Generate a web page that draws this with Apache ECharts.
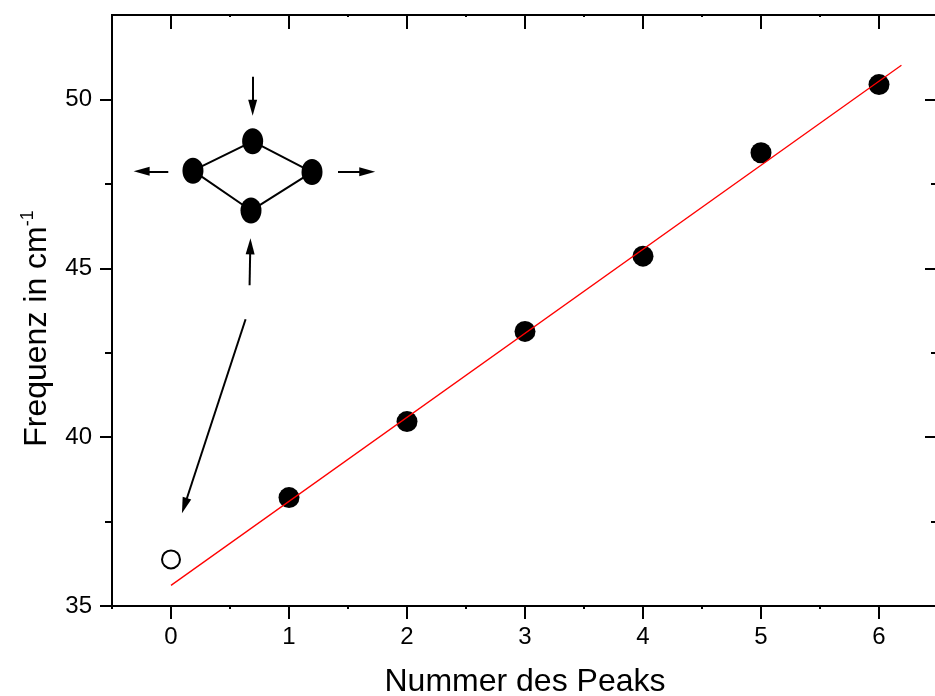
<!DOCTYPE html>
<html>
<head>
<meta charset="utf-8">
<script src="https://cdn.jsdelivr.net/npm/echarts@6/dist/echarts.min.js"></script>
<style>
html,body{margin:0;padding:0;background:#fff;}
#chart{width:935px;height:696px;}
</style>
</head>
<body>
<div id="chart"></div>
<script>
// ---- data ----
const xMajorTicks = [0, 1, 2, 3, 4, 5, 6];
const xMinorTicks = [-0.5, 0.5, 1.5, 2.5, 3.5, 4.5, 5.5];
const yMajorTicks = [35, 40, 45, 50];
const yMinorTicks = [37.5, 42.5, 47.5];

const peakX = [1, 2, 3, 4, 5, 6];
const peakY = [38.21, 40.46, 43.13, 45.36, 48.42, 50.44];
const openX = [0];
const openY = [36.38];
const fitX = [0, 6.19];
const fitY = [35.61, 51.01];

// inset: molecule atoms (top, right, bottom, left, back to top)
const atomX = [0.692, 1.195, 0.678, 0.186, 0.692];
const atomY = [48.76, 47.85, 46.71, 47.89, 48.76];
// arrows (tail -> head)
const arrowFromX = [0.692, -0.023, 1.415, 0.666, 0.632];
const arrowFromY = [50.67, 47.87, 47.86, 44.50, 43.49];
const arrowToX   = [0.692, -0.249, 1.663, 0.672, 0.114];
const arrowToY   = [49.75, 47.87, 47.86, 45.65, 37.97];

const FONT = 'Liberation Sans, Arial, sans-serif';
const BLACK = '#000';

const chart = echarts.init(document.getElementById('chart'), null, {renderer: 'canvas'});

const zip = (a, b) => a.map((v, i) => [v, b[i]]);

function xAx(pos, ticks, len, inside, withLabels) {
  return {
    type: 'value', position: pos, min: -0.5, max: 6.5,
    gridIndex: 0,
    axisLine: {show: true, onZero: false, lineStyle: {color: BLACK, width: 2}},
    axisTick: {show: true, inside: inside, length: len, customValues: ticks, lineStyle: {color: BLACK, width: 2}},
    axisLabel: withLabels ? {show: true, customValues: xMajorTicks, fontSize: 24, color: BLACK, fontFamily: FONT, margin: 19} : {show: false},
    splitLine: {show: false}
  };
}
function yAx(pos, ticks, len, inside, withLabels) {
  return {
    type: 'value', position: pos, min: 35, max: 52.5,
    gridIndex: 0,
    axisLine: {show: true, onZero: false, lineStyle: {color: BLACK, width: 2}},
    axisTick: {show: true, inside: inside, length: len, customValues: ticks, lineStyle: {color: BLACK, width: 2}},
    axisLabel: withLabels ? {show: true, customValues: yMajorTicks, fontSize: 24, color: BLACK, fontFamily: FONT, margin: 20} : {show: false},
    splitLine: {show: false}
  };
}

const xAxes = [
  Object.assign(xAx('bottom', xMajorTicks, 13, false, true), {
    name: 'Nummer des Peaks', nameLocation: 'middle', nameGap: 60,
    nameTextStyle: {fontSize: 32, color: BLACK, fontFamily: FONT}
  }),
  xAx('bottom', xMinorTicks, 3, false, false),
  xAx('top', xMajorTicks, 14, true, false),
  xAx('top', xMinorTicks, 2, true, false)
];
const yAxes = [
  Object.assign(yAx('left', yMajorTicks, 12, false, true), {
    name: '{a|Frequenz in cm}{b|-1}', nameLocation: 'middle', nameGap: 57, nameRotate: 90,
    nameTextStyle: {
      padding: [0, 36, 0, 0],
      rich: {
        a: {fontSize: 32, color: BLACK, fontFamily: FONT, lineHeight: 36},
        b: {fontSize: 18, color: BLACK, fontFamily: FONT, lineHeight: 18, verticalAlign: 'top'}
      }
    }
  }),
  yAx('left', yMinorTicks, 7, false, false),
  yAx('right', yMajorTicks, 13, true, false),
  yAx('right', yMinorTicks, 7, true, false)
];

const option = {
  animation: false,
  backgroundColor: '#fff',
  grid: {left: 112, top: 15, width: 826, height: 591, containLabel: false, outerBoundsMode: 'none'},
  xAxis: xAxes,
  yAxis: yAxes,
  series: [
    {
      type: 'line', data: zip(atomX, atomY), symbol: 'none', silent: true,
      lineStyle: {color: BLACK, width: 2, opacity: 1},
      markLine: {
        silent: true, animation: false,
        symbol: ['none', 'triangle'], symbolSize: [9, 16],
        label: {show: false},
        itemStyle: {color: BLACK, opacity: 1},
        lineStyle: {color: BLACK, width: 2, type: 'solid', opacity: 1},
        emphasis: {disabled: true},
        data: arrowFromX.map((v, i) => [
          {coord: [v, arrowFromY[i]]},
          {coord: [arrowToX[i], arrowToY[i]]}
        ])
      }
    },
    {
      type: 'scatter', data: zip(atomX.slice(0, 4), atomY.slice(0, 4)), silent: true,
      symbol: 'path://M0 10A10 10 0 1 1 20 10A10 10 0 1 1 0 10Z',
      symbolKeepAspect: false, symbolSize: [21, 26],
      itemStyle: {color: BLACK, opacity: 1}
    },
    {
      type: 'scatter', data: zip(openX, openY), silent: true,
      symbol: 'circle', symbolSize: 18,
      itemStyle: {color: '#fff', borderColor: BLACK, borderWidth: 2, opacity: 1}
    },
    {
      type: 'scatter', data: zip(peakX, peakY), silent: true,
      symbol: 'circle', symbolSize: 21,
      itemStyle: {color: BLACK, opacity: 1}
    },
    {
      type: 'line', data: zip(fitX, fitY), symbol: 'none', silent: true,
      lineStyle: {color: '#ff0000', width: 1.3, opacity: 1}
    }
  ]
};
chart.setOption(option);
</script>
</body>
</html>
